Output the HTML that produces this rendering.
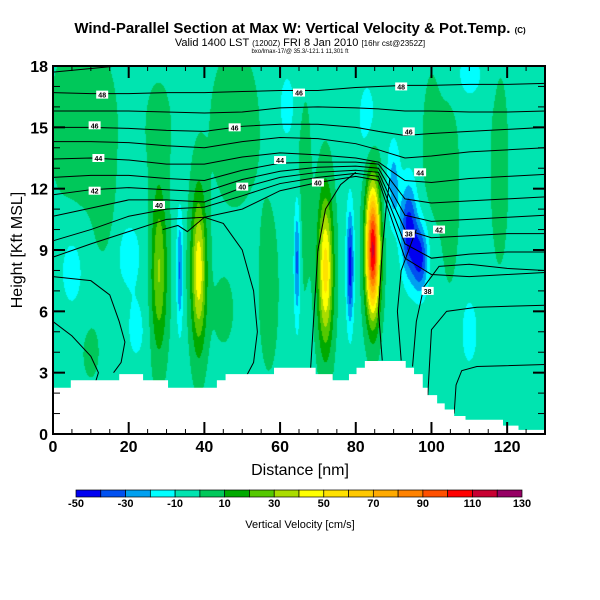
<!DOCTYPE html>
<html><head><meta charset="utf-8">
<style>
body{margin:0;background:#fff;width:600px;height:600px;overflow:hidden;font-family:"Liberation Sans",sans-serif}
#wrap{position:relative;width:600px;height:600px}
canvas{position:absolute;left:53px;top:66px}
svg{position:absolute;left:0;top:0}
</style></head><body>
<div id="wrap">
<canvas id="field" width="492" height="368"></canvas>
<svg id="svg" width="600" height="600">
<text x="300" y="33" text-anchor="middle" font-size="15" font-weight="bold">Wind-Parallel Section at Max W: Vertical Velocity &amp; Pot.Temp. <tspan font-size="8">(C)</tspan></text>
<text x="300" y="46" text-anchor="middle" font-size="11">Valid 1400 LST <tspan font-size="8">(1200Z)</tspan> FRI 8 Jan 2010 <tspan font-size="8">[16hr cst@2352Z]</tspan></text>
<text x="300" y="53" text-anchor="middle" font-size="6">bxo/lmax-17/@ 35.3/-121.1 11,301 ft</text>
<text x="300" y="475" text-anchor="middle" font-size="16">Distance [nm]</text>
<text transform="translate(22,250) rotate(-90)" text-anchor="middle" font-size="16">Height [Kft MSL]</text>
<text x="300" y="528" text-anchor="middle" font-size="11">Vertical Velocity [cm/s]</text>
</svg>
</div>
<script>
// ---- data ----
const xRange=[0,130], zRange=[0,18];
const xTicks=[0,20,40,60,80,100,120];
const yTicks=[0,3,6,9,12,15,18];
const cbLevels=[-50,-40,-30,-20,-10,0,10,20,30,40,50,60,70,80,90,100,110,120,130];
const cbLabels=[-50,-30,-10,10,30,50,70,90,110,130];
const cbColors=["#0000f0","#0050f0","#00a0f0","#00ffff","#00e4b0","#00c85a","#00aa00","#55c800","#aadc00","#ffff00","#ffe100","#ffc800","#ffaa00","#ff8200","#ff5000","#ff0000","#c80032","#960064"];
const baseW=-3;
// blobs: center x, center z, sigma x, sigma z, amplitude
const blobX=[84.5,72,78.5,38.5,28,33.5,64.5,94,97,90,8,48,57,118,105,28,62,83,110,5,20,110,66,22,10,100,14,45];
const blobZ=[9,8,8.2,8,8,8,8.5,10,8.6,12.2,15,15,7,13,12,15,16,15.5,17.6,8,8.8,5,12,5,4,14,10.5,6];
const blobSX=[1.3,1.4,0.7,1.4,1.5,0.6,0.6,1.5,1.5,1.2,7,5,2,2,2,3,2,2,3,2.5,3,2,1.8,2,2,2,2,2.5];
const blobSZ=[2.2,2.6,2,2.6,2.8,2,2.2,1.6,1.2,1.5,3.5,3,3,4,4,2,1.5,1.5,1,1.5,1.5,1.5,4,1.2,1.2,3,1.5,1.5];
const blobA=[115,58,-42,50,34,-28,-32,-42,-40,-22,7,7,7,6,6,5,-11,-11,-11,-12,-11,-11,7,-10,5,6,5,5];
// terrain steps: start x, height
const terrX=[0,4.7,17.5,23.8,30.4,43.3,45.6,58.4,69.4,73.9,78.2,80.2,82.4,93.2,95.4,97.7,99,101.5,103.5,106,109,118.9,123];
const terrZ=[2.26,2.63,2.93,2.63,2.26,2.63,2.93,3.24,2.93,2.63,2.93,3.24,3.57,3.24,2.93,2.26,1.9,1.5,1.2,0.88,0.7,0.41,0.2];
// isentropes on shared x grid
const isoX=[0,10,20,30,40,50,60,70,80,86,93,100,110,120,130];
const iso1=[16.7,16.65,16.65,16.7,16.7,16.75,16.8,16.8,16.95,17.0,17.05,17.05,17.1,17.1,17.15];
const iso2=[15.8,15.8,15.8,15.75,15.7,15.75,15.95,16.0,15.95,15.9,15.8,15.8,15.75,15.75,15.8];
const iso3=[15.0,15.0,14.95,14.85,14.8,15.05,15.15,15.15,15.0,14.8,14.6,14.7,14.8,14.9,15.0];
const iso4=[14.3,14.3,14.25,14.1,14.0,14.3,14.5,14.45,14.2,13.9,13.5,13.6,13.8,13.9,14.0];
const iso5=[13.45,13.5,13.4,13.2,13.2,13.55,13.75,13.65,13.5,13.3,12.4,12.3,12.5,12.6,12.7];
const iso6=[12.55,12.65,12.65,12.5,12.4,12.9,13.25,13.3,13.3,13.2,11.5,11.3,11.4,11.5,11.6];
const iso7=[11.7,11.95,12.05,11.95,11.85,12.45,12.85,13.05,13.1,13.0,10.7,10.4,10.5,10.6,10.7];
const iso8=[10.65,11.05,11.45,11.45,11.35,12.05,12.55,12.8,12.9,12.8,10.0,9.6,9.7,9.8,9.8];
const iso9=[9.45,10.0,10.65,11.0,11.1,11.65,12.25,12.55,12.75,12.6,9.3,8.6,8.8,8.9,8.9];
const iso10=[8.65,9.3,9.9,10.5,10.6,11.0,11.9,12.3,12.6,12.4,8.6,7.8,7.7,7.8,7.9];
const isoRows=[iso1,iso2,iso3,iso4,iso5,iso6,iso7,iso8,iso9,iso10];
// free contour lines: x and z arrays
const freeX=[[0,10,15,17.5,19,18,16],[0,5,10,12,11],[29,33,35.5,40,45,50,53,54,53,51],[68,69,70,72,76,80],[87,86,87,88,89],[92,91,92,94,96],[95,96,98,102,110,120,130],[99,100,104,112,130],[106,106.5,108,112,130],[0,17]];
const freeZ=[[7.7,7.5,6.8,5.5,4.5,3.5,3.0],[5.5,4.8,3.8,3.0,2.4],[10.0,10.2,9.9,10.6,10.3,9.0,7.0,5.0,3.5,2.8],[3.0,6,9,11,12.2,12.8],[3.6,6,9,11,12.5],[3.6,6,8,9,10],[3.3,5.5,7.2,8.2,8.3,8.1,8.0],[1.8,5.1,6.0,6.2,6.3],[1.0,2.4,3.1,3.3,3.4],[17.7,18]];
// labels: x, z, text
const labX=[13,11,12,11,28,48,65,60,70,50,92,94,97,102,94,99];
const labZ=[16.6,15.1,13.5,11.9,11.2,15.0,16.7,13.4,12.3,12.1,17.0,14.8,12.8,10.0,9.8,7.0];
const labT=["48","46","44","42","40","46","46","44","40","40","48","46","44","42","38","38"];
// ---- scales ----
const PX0=53,PX1=545,PY0=434,PY1=66;
const sx=x=>PX0+(x-xRange[0])/(xRange[1]-xRange[0])*(PX1-PX0);
const sy=z=>PY0-(z-zRange[0])/(zRange[1]-zRange[0])*(PY0-PY1);
function wAt(x,z){let v=baseW;for(let i=0;i<blobX.length;i++){const dx=(x-blobX[i])/blobSX[i],dz=(z-blobZ[i])/blobSZ[i];v+=blobA[i]*Math.exp(-0.5*(dx*dx+dz*dz));}return v;}
function colorOf(v){let i=Math.floor((v-cbLevels[0])/10);i=Math.max(0,Math.min(cbColors.length-1,i));return cbColors[i];}
function hex(c){return [parseInt(c.substr(1,2),16),parseInt(c.substr(3,2),16),parseInt(c.substr(5,2),16)];}
const cv=document.getElementById('field'),ctx=cv.getContext('2d');
const img=ctx.createImageData(492,368);
for(let py=0;py<368;py++){for(let px=0;px<492;px++){
 const x=xRange[0]+(px+0.5)/492*(xRange[1]-xRange[0]);const z=zRange[1]-(py+0.5)/368*(zRange[1]-zRange[0]);
 const c=hex(colorOf(wAt(x,z)));const k=(py*492+px)*4;img.data[k]=c[0];img.data[k+1]=c[1];img.data[k+2]=c[2];img.data[k+3]=255;}}
ctx.putImageData(img,0,0);
const NS='http://www.w3.org/2000/svg',svg=document.getElementById('svg');
function mk(t,a,parent){const e=document.createElementNS(NS,t);for(const k in a)e.setAttribute(k,a[k]);(parent||svg).appendChild(e);return e;}
// contours
const cg=mk('g',{});


isoRows.forEach((row,i)=>{const pts=row.map((z,j)=>sx(isoX[j])+','+sy(z)).join(' ');
 const e=mk('polyline',{points:pts,fill:'none',stroke:'#000','stroke-width':1},cg);
 
 });
freeX.forEach((xs,i)=>{const pts=xs.map((x,j)=>sx(x)+','+sy(freeZ[i][j])).join(' ');
 const e=mk('polyline',{points:pts,fill:'none',stroke:'#000','stroke-width':1},cg);
 
 });
// terrain
let tp='M'+sx(0)+','+sy(0);
terrX.forEach((x,i)=>{const xe=i<terrX.length-1?terrX[i+1]:130;tp+=' L'+sx(x)+','+sy(terrZ[i])+' L'+sx(xe)+','+sy(terrZ[i]);});
tp+=' L'+sx(130)+','+sy(0)+' Z';
const ter=mk('path',{d:tp,fill:'#fff',stroke:'none'});


// labels
labX.forEach((x,i)=>{const g=mk('g',{});
 
 
 mk('rect',{x:sx(x)-6,y:sy(labZ[i])-4,width:12,height:8,fill:'#fff'},g);
 const t=mk('text',{x:sx(x),y:sy(labZ[i])+3,'text-anchor':'middle','font-size':7,'font-weight':'bold'},g);t.textContent=labT[i];});
// frame & ticks
const fr=mk('rect',{x:PX0,y:PY1,width:PX1-PX0,height:PY0-PY1,fill:'none',stroke:'#000','stroke-width':2});


for(let x=0;x<=130;x+=5){const L=x%20===0?12:5;
 mk('line',{x1:sx(x),y1:PY0,x2:sx(x),y2:PY0-L,stroke:'#000','stroke-width':x%20===0?2:1});
 mk('line',{x1:sx(x),y1:PY1,x2:sx(x),y2:PY1+L,stroke:'#000','stroke-width':x%20===0?2:1});}
for(let z=0;z<=18;z+=1){const L=z%3===0?12:7;
 mk('line',{x1:PX0,y1:sy(z),x2:PX0+L,y2:sy(z),stroke:'#000','stroke-width':z%3===0?2:1});
 mk('line',{x1:PX1,y1:sy(z),x2:PX1-L,y2:sy(z),stroke:'#000','stroke-width':z%3===0?2:1});}
xTicks.forEach(v=>{const t=mk('text',{x:sx(v),y:452,'text-anchor':'middle','font-size':16,'font-weight':'bold'});t.textContent=v;
 
 });
yTicks.forEach(v=>{const t=mk('text',{x:48,y:sy(v)+6,'text-anchor':'end','font-size':16,'font-weight':'bold'});t.textContent=v;
 
 });
// colorbar
const CB0=76,CB1=522,cbw=(CB1-CB0)/cbColors.length;
const cb=mk('g',{});


cbColors.forEach((c,i)=>mk('rect',{x:CB0+i*cbw,y:490,width:cbw,height:7,fill:c,stroke:'#000','stroke-width':0.7},cb));
cbLabels.forEach(v=>{const t=mk('text',{x:CB0+(v-cbLevels[0])/10*cbw,y:507,'text-anchor':'middle','font-size':11,'font-weight':'bold'},cb);t.textContent=v;
 
 });
</script>
</body></html>
